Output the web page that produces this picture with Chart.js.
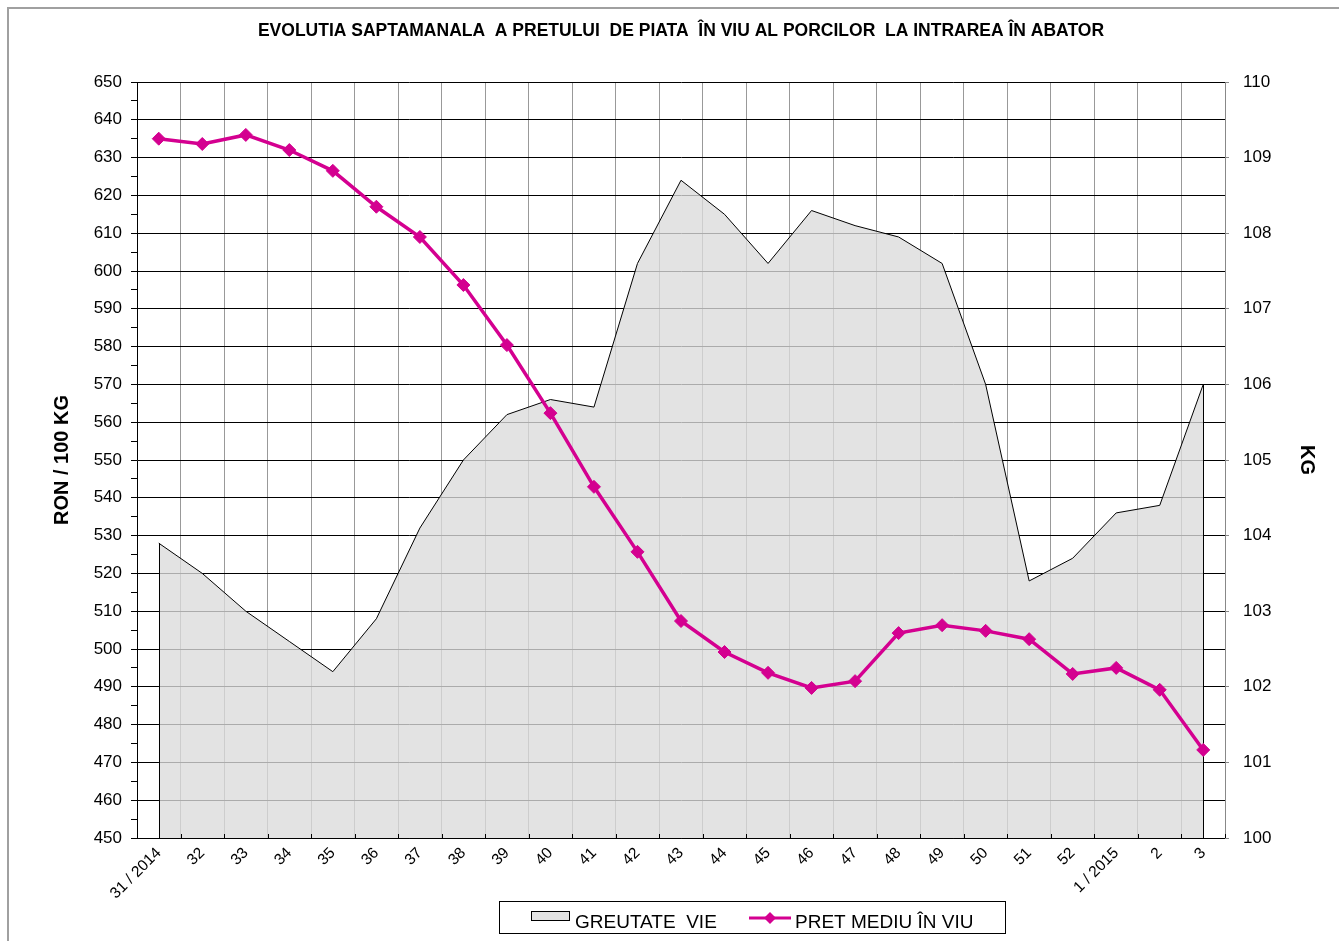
<!DOCTYPE html>
<html>
<head>
<meta charset="utf-8">
<title>Evolutia pretului porcilor</title>
<script src="https://cdn.jsdelivr.net/npm/chart.js@4/dist/chart.umd.min.js"></script>
<style>
  body { margin: 0; background: #fff; }
  canvas { display: block; }
</style>
</head>
<body>
<canvas id="pret_chart" width="1339" height="941"></canvas>
<script>
// saptamani (31/2014 .. 3/2015)
let weeks = ['31 / 2014', '32', '33', '34', '35', '36', '37', '38', '39', '40',
    '41', '42', '43', '44', '45', '46', '47', '48', '49', '50', '51', '52',
    '1 / 2015', '2', '3'];

// pret mediu in viu, RON / 100 KG
let price = [635, 633.6, 636, 632, 626.5, 617, 609, 596.3, 580.4, 562.4,
    542.9, 525.7, 507.4, 499.2, 493.7, 489.7, 491.5, 504.2, 506.3, 504.8,
    502.6, 493.4, 495, 489.2, 473.3];

// greutate vie, KG
let weight = [103.9, 103.5, 103.0, 102.6, 102.2, 102.9, 104.1, 105.0, 105.6, 105.8,
    105.7, 107.6, 108.7, 108.25, 107.6, 108.3, 108.1, 107.95, 107.6, 106.0,
    103.4, 103.7, 104.3, 104.4, 106.0];

let title_text = 'EVOLUTIA SAPTAMANALA  A PRETULUI  DE PIATA  ÎN VIU AL PORCILOR  LA INTRAREA ÎN ABATOR';
let legend_labels = ['GREUTATE  VIE', 'PRET MEDIU ÎN VIU'];

const MAGENTA = '#d40090';
const FONT = "'Liberation Sans', Arial, sans-serif";

// frame, area edges, inner x ticks, legend
const extras = {
    id: 'extras',
    beforeDraw(chart) {
        let ctx = chart.ctx;
        ctx.save();
        ctx.fillStyle = '#fff';
        ctx.fillRect(0, 0, chart.width, chart.height);
        ctx.strokeStyle = '#a0a0a0';
        ctx.lineWidth = 2;
        ctx.strokeRect(8, 8, chart.width + 10, chart.height + 10);
        ctx.restore();
    },
    afterDatasetDraw(chart, args) {
        if (args.index !== 0) return;
        let ctx = chart.ctx,
            pts = chart.getDatasetMeta(0).data,
            bottom = chart.chartArea.bottom;
        ctx.save();
        ctx.strokeStyle = '#000';
        ctx.lineWidth = 1;
        ctx.beginPath();
        [pts[0], pts[pts.length - 1]].forEach(function (p) {
            let x = Math.round(p.x) + 0.5;
            ctx.moveTo(x, p.y);
            ctx.lineTo(x, bottom);
        });
        ctx.stroke();
        ctx.restore();
    },
    afterDraw(chart) {
        let ctx = chart.ctx,
            xs = chart.scales.x,
            bottom = chart.chartArea.bottom;
        ctx.save();
        // tick marks on the category boundaries
        ctx.strokeStyle = '#000';
        ctx.lineWidth = 1;
        ctx.beginPath();
        for (let i = 0; i <= weeks.length; i++) {
            let x = Math.round(xs.getPixelForValue(i - 0.5)) + 0.5;
            ctx.moveTo(x, bottom - 4);
            ctx.lineTo(x, bottom);
        }
        ctx.stroke();

        // legend
        ctx.strokeStyle = '#000';
        ctx.strokeRect(499.5, 901.5, 506, 32);
        ctx.fillStyle = '#e3e3e3';
        ctx.fillRect(531.5, 911.5, 38, 9);
        ctx.strokeRect(531.5, 911.5, 38, 9);
        ctx.font = '19px ' + FONT;
        ctx.fillStyle = '#000';
        ctx.textBaseline = 'alphabetic';
        ctx.textAlign = 'left';
        ctx.fillText(legend_labels[0], 575, 928);
        ctx.strokeStyle = MAGENTA;
        ctx.lineWidth = 3;
        ctx.beginPath();
        ctx.moveTo(749, 918);
        ctx.lineTo(791, 918);
        ctx.stroke();
        ctx.fillStyle = MAGENTA;
        ctx.beginPath();
        ctx.moveTo(770, 912);
        ctx.lineTo(776, 918);
        ctx.lineTo(770, 924);
        ctx.lineTo(764, 918);
        ctx.closePath();
        ctx.fill();
        ctx.fillStyle = '#000';
        ctx.fillText(legend_labels[1], 795, 928);
        ctx.restore();
    }
};

var config = {
    type: 'line',
    data: {
        labels: weeks,
        datasets: [
            {
                label: legend_labels[0],
                data: weight,
                yAxisID: 'y1',
                fill: 'origin',
                backgroundColor: 'rgba(219,219,219,0.78)',
                borderColor: '#000',
                borderWidth: 1,
                pointRadius: 0,
                tension: 0,
                order: 2
            },
            {
                label: legend_labels[1],
                data: price,
                yAxisID: 'y',
                fill: false,
                borderColor: MAGENTA,
                backgroundColor: MAGENTA,
                borderWidth: 3.5,
                pointStyle: 'rectRot',
                pointRadius: 6.5,
                pointBorderWidth: 1,
                tension: 0,
                order: 1
            }
        ]
    },
    options: {
        responsive: false,
        animation: false,
        devicePixelRatio: 1,
        layout: { padding: 0 },
        plugins: {
            legend: { display: false },
            tooltip: { enabled: false },
            title: {
                display: true,
                text: title_text,
                fullSize: false,
                color: '#000',
                font: { family: FONT, size: 17.5, weight: 'bold' },
                padding: { top: 21, bottom: 40 }
            }
        },
        scales: {
            x: {
                offset: true,
                grid: { offset: true, color: '#999', drawTicks: false },
                border: { color: '#000', width: 1 },
                ticks: {
                    color: '#000',
                    font: { family: FONT, size: 15.5 },
                    minRotation: 45,
                    maxRotation: 45,
                    autoSkip: false,
                    padding: 6
                },
                afterFit: function (scale) { scale.height = 103; }
            },
            y: {
                position: 'left',
                min: 450,
                max: 650,
                grid: {
                    color: function (c) { return c.tick.value % 10 === 0 ? '#000' : 'rgba(0,0,0,0)'; },
                    tickColor: '#000',
                    tickLength: 6
                },
                border: { color: '#000', width: 1 },
                ticks: {
                    stepSize: 5,
                    autoSkip: false,
                    color: '#000',
                    padding: 9,
                    font: { family: FONT, size: 17 },
                    callback: function (v) { return v % 10 === 0 ? v : ''; }
                },
                title: {
                    display: true,
                    text: 'RON / 100 KG',
                    color: '#000',
                    font: { family: FONT, size: 20, weight: 'bold' },
                    padding: { top: 50, bottom: 0 }
                },
                afterFit: function (scale) { scale.width = 137; }
            },
            y1: {
                position: 'right',
                min: 100,
                max: 110,
                grid: { drawOnChartArea: false, color: '#888', tickLength: 4 },
                border: { color: '#888', width: 1 },
                ticks: {
                    stepSize: 1,
                    color: '#000',
                    padding: 14,
                    font: { family: FONT, size: 17 }
                },
                title: {
                    display: true,
                    text: 'KG',
                    color: '#000',
                    font: { family: FONT, size: 20, weight: 'bold' },
                    padding: { top: 20, bottom: 0 }
                },
                afterFit: function (scale) { scale.width = 114; }
            }
        }
    },
    plugins: [extras]
};

var ctx = document.getElementById('pret_chart').getContext('2d');
new Chart(ctx, config);
</script>
</body>
</html>
